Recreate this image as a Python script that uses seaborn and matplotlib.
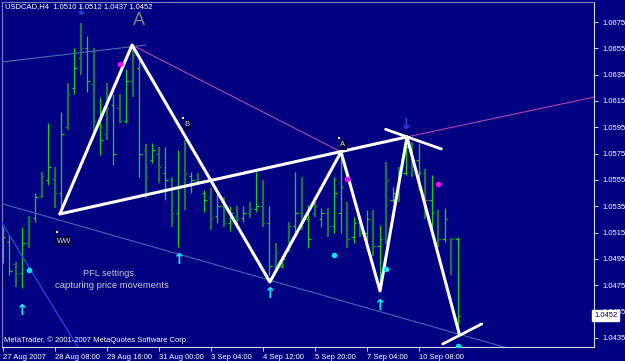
import matplotlib
matplotlib.use('Agg')
import matplotlib.pyplot as plt
import seaborn as sns
import numpy as np
import pandas as pd

# ---------------- data ----------------
opens = [1.0500,1.0508,1.0491,1.0484,1.0507,1.0526,1.0543,1.0555,1.0556,1.0545,
         1.0595,1.0625,1.0648,1.0655,1.0628,1.0598,1.0590,1.0612,1.0610,1.0600,
         1.0630,1.0640,1.0578,1.0570,1.0575,1.0560,1.0555,1.0530,1.0550,1.0558,
         1.0555,1.0545,1.0542,1.0528,1.0535,1.0522,1.0528,1.0526,1.0530,1.0533,
         1.0535,1.0522,1.0490,1.0490,1.0502,1.0520,1.0530,1.0525,1.0530,1.0525,
         1.0530,1.0520,1.0530,1.0525,1.0512,1.0522,1.0515,1.0525,1.0505,1.0510,
         1.0540,1.0545,1.0560,1.0578,1.0570,1.0560,1.0540,1.0530,1.0510,1.0505,
         1.0510]
highs = [1.0519,1.0513,1.0493,1.0519,1.0528,1.0545,1.0561,1.0598,1.0565,1.0607,
         1.0629,1.0655,1.0674,1.0664,1.0655,1.0618,1.0629,1.0620,1.0620,1.0639,
         1.0658,1.0645,1.0582,1.0583,1.0580,1.0580,1.0557,1.0578,1.0585,1.0561,
         1.0560,1.0547,1.0549,1.0544,1.0542,1.0535,1.0535,1.0535,1.0538,1.0561,
         1.0555,1.0535,1.0507,1.0497,1.0523,1.0561,1.0557,1.0536,1.0538,1.0534,
         1.0534,1.0557,1.0576,1.0538,1.0527,1.0528,1.0532,1.0532,1.0521,1.0569,
         1.0550,1.0565,1.0585,1.0584,1.0583,1.0563,1.0559,1.0532,1.0534,1.0511,
         1.0512]
lows = [1.0492,1.0483,1.0474,1.0473,1.0503,1.0523,1.0541,1.0551,1.0534,1.0534,
        1.0593,1.0620,1.0635,1.0622,1.0591,1.0574,1.0585,1.0566,1.0598,1.0598,
        1.0618,1.0557,1.0541,1.0568,1.0553,1.0540,1.0519,1.0504,1.0532,1.0545,
        1.0551,1.0531,1.0517,1.0522,1.0519,1.0516,1.0519,1.0523,1.0526,1.0531,
        1.0519,1.0483,1.0484,1.0488,1.0500,1.0512,1.0517,1.0503,1.0527,1.0519,
        1.0512,1.0515,1.0515,1.0503,1.0507,1.0512,1.0502,1.0497,1.0475,1.0506,
        1.0538,1.0538,1.0559,1.0557,1.0547,1.0525,1.0517,1.0504,1.0508,1.0483,
        1.0437]
closes = [1.0512,1.0486,1.0484,1.0507,1.0524,1.0542,1.0558,1.0565,1.0545,1.0590,
          1.0620,1.0640,1.0655,1.0630,1.0600,1.0585,1.0610,1.0575,1.0600,1.0630,
          1.0650,1.0575,1.0557,1.0578,1.0565,1.0555,1.0530,1.0550,1.0560,1.0555,
          1.0553,1.0540,1.0525,1.0535,1.0522,1.0530,1.0525,1.0530,1.0533,1.0535,
          1.0522,1.0490,1.0500,1.0495,1.0520,1.0530,1.0525,1.0510,1.0535,1.0530,
          1.0520,1.0545,1.0550,1.0510,1.0522,1.0515,1.0525,1.0505,1.0510,1.0555,
          1.0545,1.0560,1.0580,1.0570,1.0560,1.0540,1.0530,1.0510,1.0525,1.0510,
          1.0452]
bright_flags = [1,1,0,1,0,1,0,1,0,1, 0,1,0,1,0,1,0,1,0,1, 0,1,0,1,0,1,0,1,0,1,
                0,1,0,1,0,1,0,1,0,1, 0,1,0,1,0,1,0,1,0,1, 0,1,1,0,1,0,1,0,1,0,
                1,0,1,0,1,0,1,0,1,0, 1]

time_labels = ["27 Aug 2007", "28 Aug 08:00", "29 Aug 16:00", "31 Aug 00:00",
               "3 Sep 04:00", "4 Sep 12:00", "5 Sep 20:00", "7 Sep 04:00", "10 Sep 08:00"]
time_tick_bars = [0, 8, 16, 24, 32, 40, 48, 56, 64]
price_ticks = [1.0435, 1.0455, 1.0475, 1.0495, 1.0515, 1.0535, 1.0555,
               1.0575, 1.0595, 1.0615, 1.0635, 1.0655, 1.0675]
price_labels = ["1.0435", "1.0455", "1.0475", "1.0495", "1.0515", "1.0535", "1.0555",
                "1.0575", "1.0595", "1.0615", "1.0635", "1.0655", "1.0675"]
last_price = 1.0452

# zigzag (PFL) pivots
zz_x = [8.8, 19.9, 41.1, 52.05, 58.05, 62.2, 70.2]
zz_y = [1.05292, 1.06575, 1.04775, 1.05763, 1.04707, 1.05877, 1.04388]
# upper trend line
trend_x = [8.8, 62.2]
trend_y = [1.05292, 1.05877]
# short cross lines at last pivots
cross1_x = [58.9, 67.5]
cross1_y = [1.05935, 1.05785]
cross2_x = [67.7, 73.7]
cross2_y = [1.04304, 1.04456]
# thin lines
steel_x = [-0.2, 22.0]
steel_y = [1.06446, 1.06575]
pink1_x = [19.9, 52.05]
pink1_y = [1.06575, 1.05763]
pink2_x = [62.2, 91.5]
pink2_y = [1.05877, 1.06185]
lowline_x = [-1.0, 80.0]
lowline_y = [1.05382, 1.04240]
steep_x = [-0.5, 12.8]
steep_y = [1.05255, 1.04180]

# markers
magenta_x = [18, 53, 67]
magenta_y = [1.06431, 1.05557, 1.05519]
cyan_x = [4, 51, 59, 70]
cyan_y = [1.04866, 1.04980, 1.04874, 1.04289]
up_arrow_x = [2.9, 27, 41, 58]
up_arrow_y = [1.04562, 1.04942, 1.04691, 1.04600]
down_arrow_x = [12, 62]
down_arrow_y = [1.06834, 1.05975]

# ---------------- style ----------------
NAVY = '#000080'
sns.set_theme(style='dark', rc={'axes.facecolor': NAVY, 'figure.facecolor': NAVY,
                                'axes.grid': False})
plt.rcParams['font.family'] = ['Liberation Sans', 'DejaVu Sans']

fig = plt.figure(figsize=(6.25, 3.61), dpi=100, facecolor=NAVY)
ax = fig.add_axes([2/625, 1-347/361, 592/625, 345/361])
ax.set_facecolor(NAVY)

n = len(opens)
xs = np.arange(n)
df = pd.DataFrame({'x': xs, 'o': opens, 'h': highs, 'l': lows, 'c': closes,
                   'b': bright_flags})
BRIGHT, DARK = '#18d018', '#1c7444'
for kind, col, lw in [(1, BRIGHT, 0.9), (0, DARK, 1.6)]:
    d = df[df.b == kind]
    ax.vlines(d.x, d.l, d.h, colors=col, lw=lw, zorder=2)
    ax.hlines(d.o, d.x - 0.38, d.x, colors=col, lw=0.9, zorder=2)
    ax.hlines(d.c, d.x, d.x + 0.38, colors=col, lw=0.9, zorder=2)

# thin lines
ax.plot(steel_x, steel_y, color='#4a70b0', lw=0.8, zorder=3)
ax.plot(lowline_x, lowline_y, color='#3d6cb5', lw=0.8, zorder=3)
ax.plot(steep_x, steep_y, color='#2c48e0', lw=0.9, zorder=3)
ax.plot(pink1_x, pink1_y, color='#b048a8', lw=0.8, zorder=3)
ax.plot(pink2_x, pink2_y, color='#b048a8', lw=0.8, zorder=3)

# white PFL zigzag & trend lines
sns.lineplot(x=zz_x, y=zz_y, sort=False, estimator=None, color='white', lw=2.2,
             ax=ax, zorder=4)
sns.lineplot(x=trend_x, y=trend_y, sort=False, estimator=None, color='white', lw=2.2,
             ax=ax, zorder=4)
sns.lineplot(x=cross1_x, y=cross1_y, sort=False, estimator=None, color='white', lw=2.0,
             ax=ax, zorder=4)
sns.lineplot(x=cross2_x, y=cross2_y, sort=False, estimator=None, color='white', lw=2.0,
             ax=ax, zorder=4)

# dots
sns.scatterplot(x=magenta_x, y=magenta_y, color='#ff00ff', s=16, linewidth=0,
                ax=ax, zorder=5)
sns.scatterplot(x=cyan_x, y=cyan_y, color='#00e8ff', s=16, linewidth=0,
                ax=ax, zorder=5)

for xa, ya in zip(up_arrow_x, up_arrow_y):
    ax.text(xa, ya, '\u2191', color='#20e0ff', fontsize=11, fontweight='bold',
            ha='center', va='center', zorder=6, family='DejaVu Sans')
for xa, ya in zip(down_arrow_x, down_arrow_y):
    ax.text(xa, ya, '\u2193', color='#2a40d8', fontsize=11, fontweight='bold',
            ha='center', va='center', zorder=6, family='DejaVu Sans')

# labels on chart
ax.text(21.0, 1.06760, 'A', color='#808080', fontsize=13, ha='center', va='center',
        zorder=6)
small = dict(color='#d8d8e8', fontsize=5.5, ha='center', va='center', zorder=6,
             bbox=dict(boxstyle='square,pad=0.15', fc='#000040', ec='none'))
ax.text(28.4, 1.05968, 'B', **small)
ax.text(52.35, 1.05816, 'A', **small)
ax.text(9.4, 1.05086, 'WW', **small)
ax.scatter([27.7, 51.75, 8.35], [1.06021, 1.05869, 1.05155], marker='s', s=3,
           color='white', linewidths=0, zorder=6)

fig.text(83/625, 1-273/361, 'PFL settings', color='#c8c8d8', fontsize=6.6,
         ha='left', va='center')
fig.text(55/625, 1-286/361, 'capturing price movements', color='#c8c8d8',
         fontsize=6.8, ha='left', va='center')
fig.text(5/625, 1-7/361, 'USDCAD,H4  1.0510 1.0512 1.0437 1.0452', color='white',
         fontsize=5.5, ha='left', va='center')
fig.text(4/625, 1-340/361, 'MetaTrader, \u00a9 2001-2007 MetaQuotes Software Corp.',
         color='white', fontsize=5.5, ha='left', va='center')

# axes
ax.set_xlim(-0.11, 90.97)
ax.set_ylim(1.04281, 1.06902)
ax.set_xticks(time_tick_bars)
ax.set_xticklabels(time_labels)
ax.set_yticks(price_ticks)
ax.set_yticklabels(price_labels)
ax.yaxis.tick_right()
ax.tick_params(axis='y', right=True, left=False, labelright=True, labelleft=False,
               colors='white', length=3, width=0.6, pad=3, labelsize=5.5)
ax.tick_params(axis='x', bottom=True, colors='white', length=3, width=0.6, pad=2,
               labelsize=5.5)
for lab in ax.get_xticklabels():
    lab.set_ha('left')
ax.set_xlabel('')
ax.set_ylabel('')
for sp in ax.spines.values():
    sp.set_color('#d8d8e8')
    sp.set_linewidth(0.8)
ax.spines['left'].set_color('#8080c0')
ax.spines['top'].set_color('#8080c0')

ax.text(1.0, last_price, '1.0452', transform=ax.get_yaxis_transform(),
        color=NAVY, fontsize=5.5, ha='left', va='center', zorder=10, clip_on=False,
        bbox=dict(boxstyle='square,pad=0.25', fc='white', ec='white'))

fig.savefig('out.png', dpi=100, facecolor=NAVY)
